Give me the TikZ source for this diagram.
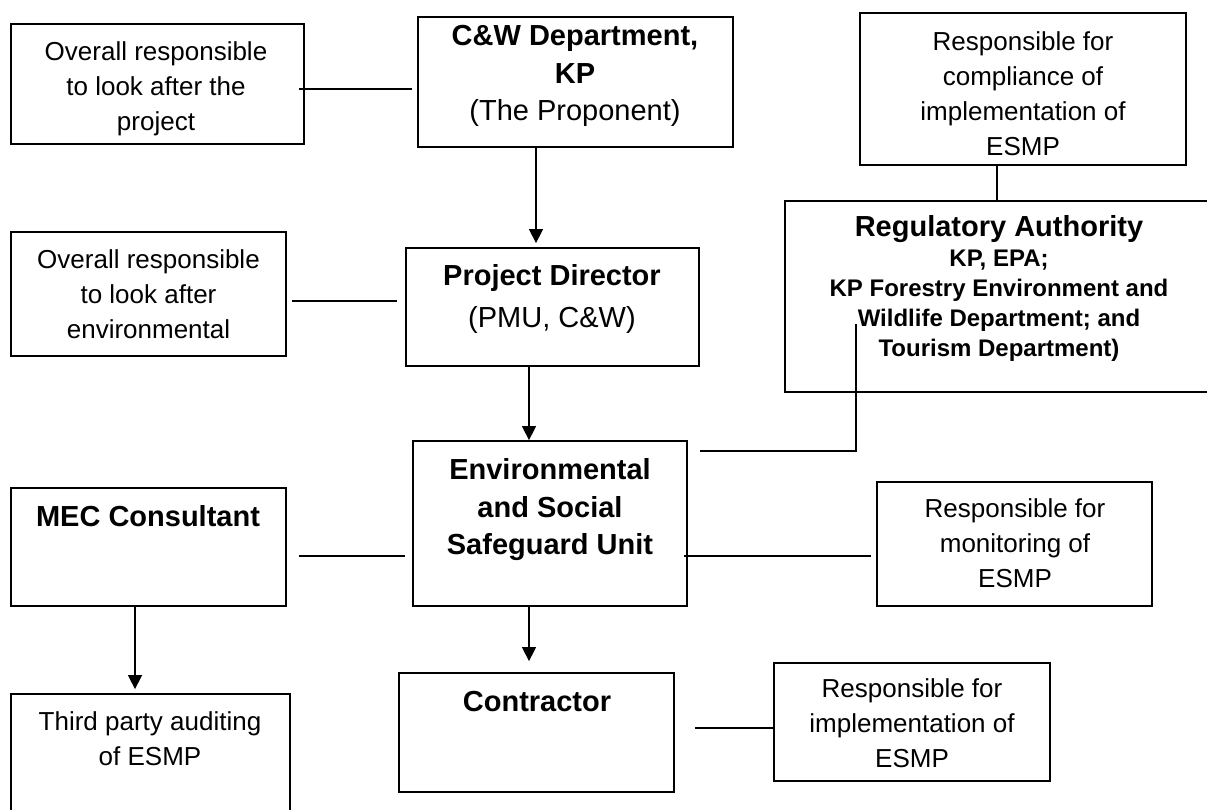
\documentclass[tikz,border=0pt]{standalone}
\usepackage{fontspec}
\setmainfont{Liberation Sans}
\usetikzlibrary{arrows.meta}

\begin{document}
\begin{tikzpicture}[x=1pt, y=-1pt,
    box/.style={draw, line width=1.8pt, inner sep=0pt},
    side/.style={align=center, font=\fontsize{26}{35}\selectfont},
    head/.style={align=center, font=\bfseries\fontsize{29}{37.5}\selectfont},
    link/.style={line width=1.4pt},
    down/.style={line width=1.4pt, -{Triangle[length=14pt, width=14pt]}}]
    \useasboundingbox (0,0) rectangle (1207,809);
    \node[box, minimum width=293pt, minimum height=120pt] (resp1) at (157.5,84) {}; %% project
    \node[box, minimum width=315pt, minimum height=130pt] (cw) at (575.5,82) {}; %% proponent
    \node[box, minimum width=326pt, minimum height=152pt] (compl) at (1023,89) {}; %% compliance
    \node[box, minimum width=435pt, minimum height=191pt] (reg) at (1002.5,296.5) {}; %% regulator, runs off the page
    \node[box, minimum width=275pt, minimum height=124pt] (resp2) at (148.5,294) {}; %% environmental
    \node[box, minimum width=293pt, minimum height=118pt] (pd) at (552.5,307) {}; %% director
    \node[box, minimum width=274pt, minimum height=165pt] (essu) at (550,523.5) {}; %% unit
    \node[box, minimum width=275pt, minimum height=118pt] (mec) at (148.5,547) {}; %% consultant
    \node[box, minimum width=275pt, minimum height=124pt] (mon) at (1014.5,544) {}; %% monitoring
    \node[box, minimum width=279pt, minimum height=136pt] (third) at (150.5,762) {}; %% auditing, runs off the page
    \node[box, minimum width=275pt, minimum height=119pt] (contr) at (536.5,732.5) {}; %% contractor
    \node[box, minimum width=276pt, minimum height=118pt] (impl) at (912,722) {}; %% implementation

    \node[side] (resp1-t) at (156,89) {Overall responsible\\to look after the\\project};
    \node[head] (cw-t) at (575,76) {C\&W Department,\\KP\\\mdseries (The Proponent)};
    \node[side] (compl-t) at (1023,94) {Responsible for\\compliance of\\implementation of\\ESMP};
    \node[align=center, font=\bfseries\fontsize{24}{30}\selectfont] (reg-t) at (999,288) {{\fontsize{29}{31}\selectfont Regulatory Authority}\\KP, EPA;\\KP Forestry Environment and\\Wildlife Department; and\\Tourism Department)};
    \node[side] (resp2-t) at (148.5,294.5) {Overall responsible\\to look after\\environmental};
    \node[head] (pd-t) at (552,299) {Project Director\\[4pt]\mdseries (PMU, C\&W)};
    \node[head] (essu-t) at (550,510) {Environmental\\and Social\\Safeguard Unit};
    \node[head] (mec-t) at (148,516.5) {MEC Consultant};
    \node[side] (mon-t) at (1015,543.5) {Responsible for\\monitoring of\\ESMP};
    \node[side] (third-t) at (150,739) {Third party auditing\\of ESMP};
    \node[head] (contr-t) at (537,701.5) {Contractor};
    \node[side] (impl-t) at (912,723.5) {Responsible for\\implementation of\\ESMP};

    \draw[link] ([xshift=-6pt,yshift=-5pt]resp1.east) -- ([xshift=-5pt,yshift=-5pt]resp1.east -| cw.west); %% 1
    \draw[down, shorten >=4pt] ([xshift=-39.5pt]cw.south) -- ([xshift=-39.5pt]cw.south |- pd.north); %% 2
    \draw[link] ([xshift=-26pt]compl.south) -- ([xshift=-26pt]compl.south |- reg.north); %% 3
    \draw[link] ([xshift=5pt,yshift=-7pt]resp2.east) -- ([xshift=-8pt,yshift=-7pt]resp2.east -| pd.west); %% 4
    \draw[down] ([xshift=-23.5pt]pd.south) -- ([xshift=-23.5pt]pd.south |- essu.north); %% 5
    \draw[link] ([shift={(72pt,69pt)}]reg.south west) |- ([shift={(12pt,-11pt)}]essu.north east); %% 6
    \draw[link] ([xshift=12pt,yshift=-9pt]mec.east) -- ([xshift=-7pt,yshift=-9pt]mec.east -| essu.west); %% 7
    \draw[link] ([xshift=-4pt,yshift=-32.5pt]essu.east) -- ([xshift=-5pt,yshift=-32.5pt]essu.east -| mon.west); %% 8
    \draw[down, shorten >=4pt] ([xshift=-13.5pt]mec.south) -- ([xshift=-13.5pt]mec.south |- third.north); %% 9
    \draw[down, shorten >=11pt] ([xshift=-21pt]essu.south) -- ([xshift=-21pt]essu.south |- contr.north); %% 10
    \draw[link] ([xshift=20pt,yshift=4.5pt]contr.east) -- ([yshift=4.5pt]contr.east -| impl.west); %% 11
\end{tikzpicture}
\end{document}
